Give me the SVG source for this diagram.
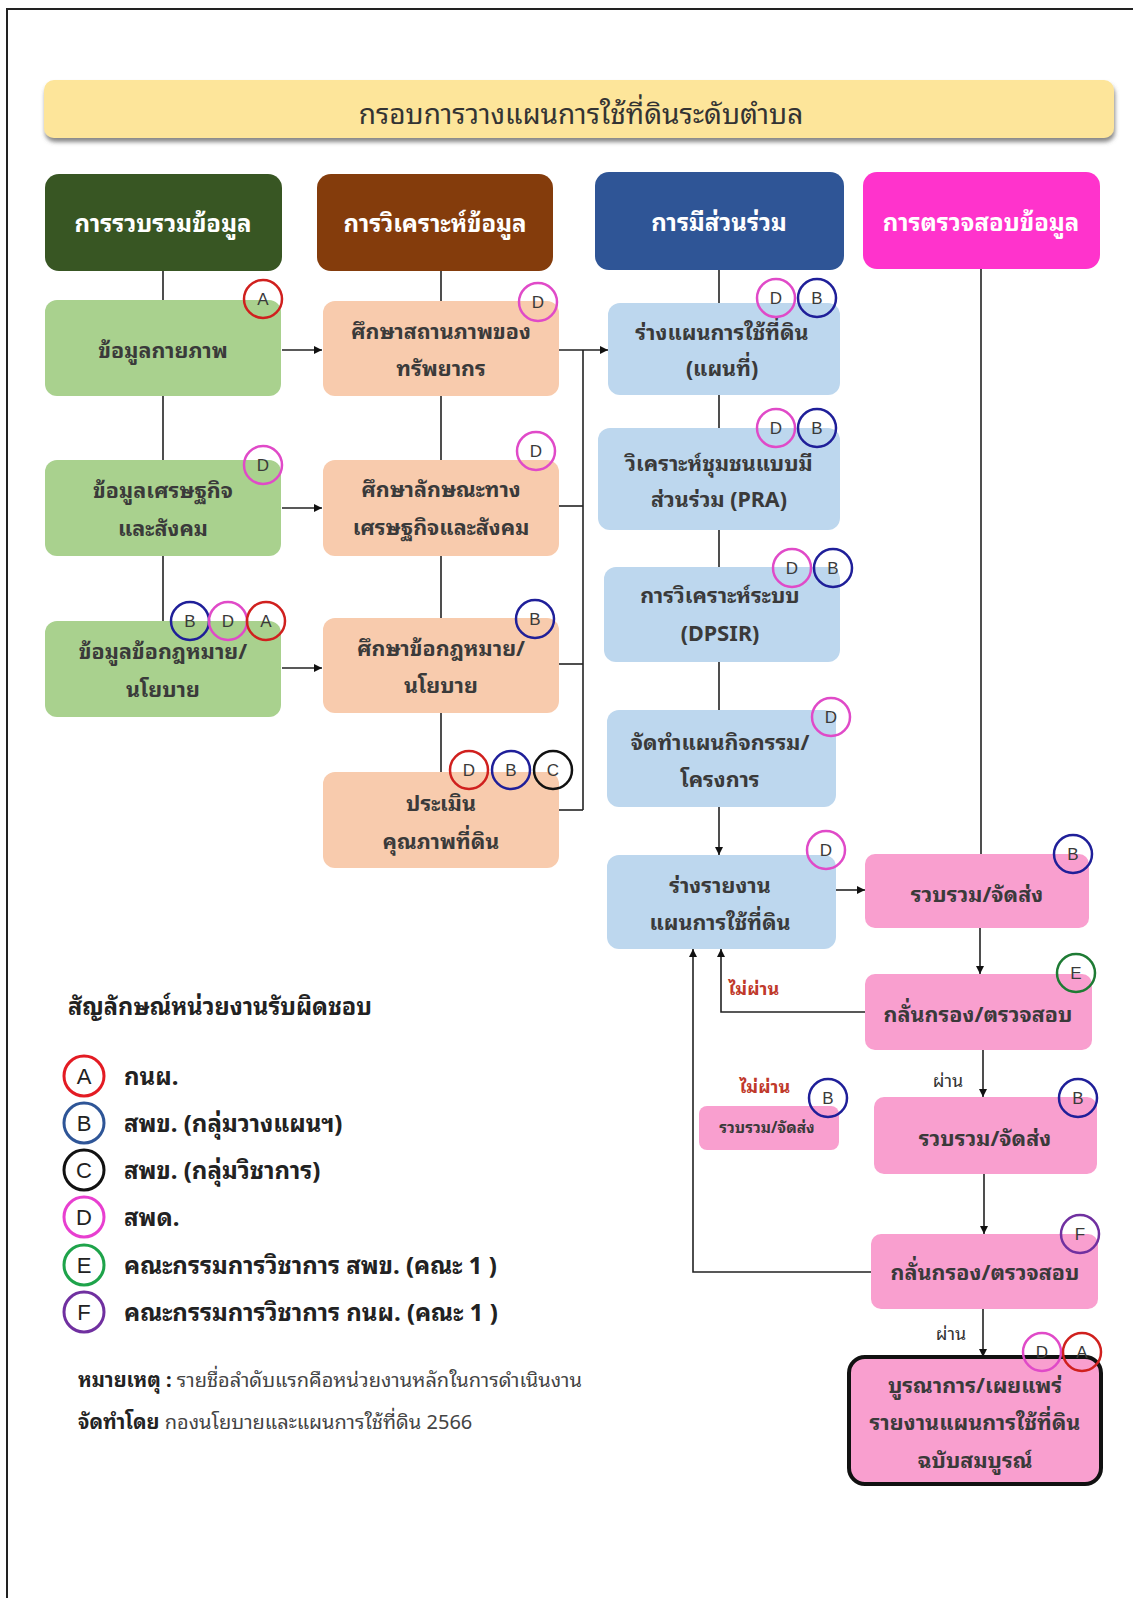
<svg xmlns="http://www.w3.org/2000/svg" width="1133" height="1598" viewBox="0 0 1133 1598">
<defs>
<style>
text{font-family:"Noto Sans Thai Looped","Tahoma","Leelawadee UI","Loma","Garuda","Noto Sans Thai","Noto Sans","DejaVu Sans",sans-serif;}
.hd{fill:#ffffff;font-size:24px;font-weight:bold;text-anchor:middle;dominant-baseline:central;}
.nt{fill:#3a3a3a;font-size:21.5px;font-weight:bold;text-anchor:middle;dominant-baseline:central;}
.bl{font-size:17px;fill:#3a3a3a;text-anchor:middle;dominant-baseline:central;font-family:"Liberation Sans",Arial,sans-serif;}
.lg{font-size:22px;fill:#222;text-anchor:middle;dominant-baseline:central;font-family:"Liberation Sans",Arial,sans-serif;}
.lt{font-size:24px;fill:#222;font-weight:bold;dominant-baseline:central;}
.green{fill:#a9d18e;}
.peach{fill:#f8cbad;}
.blue{fill:#bdd7ee;}
.pink{fill:#f99fcf;}
.ln{stroke:#222;stroke-width:1.6;fill:none;}
.bA{fill:none;stroke:#d0201e;stroke-width:2.5;}
.bB{fill:none;stroke:#1f1f99;stroke-width:2.5;}
.bC{fill:none;stroke:#111;stroke-width:2.5;}
.bD{fill:none;stroke:#e04ac8;stroke-width:2.5;}
.bE{fill:none;stroke:#1e7b34;stroke-width:2.5;}
.bF{fill:none;stroke:#7030a0;stroke-width:2.5;}
.red{fill:#c0392b;font-size:18px;font-weight:bold;text-anchor:middle;dominant-baseline:central;}
.pass{fill:#333;font-size:18px;text-anchor:middle;dominant-baseline:central;}
</style>
<marker id="ah" viewBox="0 0 10 10" refX="10" refY="5" markerWidth="8" markerHeight="8" markerUnits="userSpaceOnUse" orient="auto">
<path d="M0,0 L10,5 L0,10 z" fill="#111"/>
</marker>
<filter id="sh" x="-5%" y="-20%" width="110%" height="160%">
<feDropShadow dx="1" dy="4" stdDeviation="2" flood-color="#555" flood-opacity="0.7"/>
</filter>
</defs>
<rect x="0" y="0" width="1133" height="1598" fill="#ffffff"/>
<path d="M7,1598 V9 H1133" fill="none" stroke="#222" stroke-width="2"/>

<g id="title">
<rect x="44" y="80" width="1070" height="58" rx="10" fill="#fde59a" filter="url(#sh)"/>
<text x="581" y="111" style="font-size:28px;fill:#333;text-anchor:middle;dominant-baseline:central;">กรอบการวางแผนการใช้ที่ดินระดับตำบล</text>
</g>

<g id="connectors">
<line class="ln" x1="163" y1="271" x2="163" y2="300"/>
<line class="ln" x1="163" y1="396" x2="163" y2="460"/>
<line class="ln" x1="163" y1="556" x2="163" y2="621"/>
<line class="ln" x1="282" y1="350" x2="322" y2="350" marker-end="url(#ah)"/>
<line class="ln" x1="282" y1="508" x2="322" y2="508" marker-end="url(#ah)"/>
<line class="ln" x1="282" y1="668" x2="322" y2="668" marker-end="url(#ah)"/>
<line class="ln" x1="441" y1="271" x2="441" y2="301"/>
<line class="ln" x1="441" y1="396" x2="441" y2="460"/>
<line class="ln" x1="441" y1="556" x2="441" y2="618"/>
<line class="ln" x1="441" y1="713" x2="441" y2="772"/>
<line class="ln" x1="559" y1="350" x2="608" y2="350" marker-end="url(#ah)"/>
<line class="ln" x1="559" y1="506" x2="583" y2="506"/>
<line class="ln" x1="559" y1="664" x2="583" y2="664"/>
<line class="ln" x1="559" y1="810" x2="583" y2="810"/>
<line class="ln" x1="583" y1="350" x2="583" y2="810"/>
<line class="ln" x1="719" y1="270" x2="719" y2="303"/>
<line class="ln" x1="719" y1="395" x2="719" y2="428"/>
<line class="ln" x1="719" y1="530" x2="719" y2="567"/>
<line class="ln" x1="719" y1="662" x2="719" y2="710"/>
<line class="ln" x1="719" y1="807" x2="719" y2="855" marker-end="url(#ah)"/>
<line class="ln" x1="836" y1="890" x2="865" y2="890" marker-end="url(#ah)"/>
<line class="ln" x1="981" y1="269" x2="981" y2="854"/>
<line class="ln" x1="980" y1="928" x2="980" y2="974" marker-end="url(#ah)"/>
<line class="ln" x1="983" y1="1050" x2="983" y2="1097" marker-end="url(#ah)"/>
<line class="ln" x1="984" y1="1174" x2="984" y2="1234" marker-end="url(#ah)"/>
<line class="ln" x1="983" y1="1309" x2="983" y2="1357" marker-end="url(#ah)"/>
<polyline class="ln" points="865,1012 721,1012 721,949" marker-end="url(#ah)"/>
<polyline class="ln" points="871,1272 693,1272 693,949" marker-end="url(#ah)"/>
<text class="red" x="754" y="987">ไม่ผ่าน</text>
<text class="red" x="765" y="1085">ไม่ผ่าน</text>
<text class="pass" x="948" y="1079">ผ่าน</text>
<text class="pass" x="951" y="1332">ผ่าน</text>
</g>

<g id="h1"><rect x="45" y="174" width="237" height="97" rx="14" fill="#385623"/><text class="hd" x="163" y="221">การรวบรวมข้อมูล</text></g>
<g id="h2"><rect x="317" y="174" width="236" height="97" rx="14" fill="#843c0c"/><text class="hd" x="435" y="221">การวิเคราะห์ข้อมูล</text></g>
<g id="h3"><rect x="595" y="172" width="249" height="98" rx="14" fill="#2f5596"/><text class="hd" x="719" y="220">การมีส่วนร่วม</text></g>
<g id="h4"><rect x="863" y="172" width="237" height="97" rx="14" fill="#ff33cc"/><text class="hd" x="981" y="220">การตรวจสอบข้อมูล</text></g>

<g id="n1"><rect class="green" x="45" y="300" width="236" height="96" rx="12"/><text class="nt" x="163" y="348">ข้อมูลกายภาพ</text>
<circle class="bA" cx="263" cy="299" r="19"/><text class="bl" x="263" y="299">A</text></g>
<g id="n2"><rect class="green" x="45" y="460" width="236" height="96" rx="12"/><text class="nt" x="163" y="488">ข้อมูลเศรษฐกิจ</text><text class="nt" x="163" y="526">และสังคม</text>
<circle class="bD" cx="263" cy="465" r="19"/><text class="bl" x="263" y="465">D</text></g>
<g id="n3"><rect class="green" x="45" y="621" width="236" height="96" rx="12"/><text class="nt" x="163" y="649">ข้อมูลข้อกฎหมาย/</text><text class="nt" x="163" y="687">นโยบาย</text>
<circle class="bB" cx="190" cy="621" r="19"/><text class="bl" x="190" y="621">B</text>
<circle class="bD" cx="228" cy="621" r="19"/><text class="bl" x="228" y="621">D</text>
<circle class="bA" cx="266" cy="621" r="19"/><text class="bl" x="266" y="621">A</text></g>

<g id="n4"><rect class="peach" x="323" y="301" width="236" height="95" rx="12"/><text class="nt" x="441" y="329">ศึกษาสถานภาพของ</text><text class="nt" x="441" y="366">ทรัพยากร</text>
<circle class="bD" cx="538" cy="302" r="19"/><text class="bl" x="538" y="302">D</text></g>
<g id="n5"><rect class="peach" x="323" y="460" width="236" height="96" rx="12"/><text class="nt" x="441" y="487">ศึกษาลักษณะทาง</text><text class="nt" x="441" y="525">เศรษฐกิจและสังคม</text>
<circle class="bD" cx="536" cy="451" r="19"/><text class="bl" x="536" y="451">D</text></g>
<g id="n6"><rect class="peach" x="323" y="618" width="236" height="95" rx="12"/><text class="nt" x="441" y="646">ศึกษาข้อกฎหมาย/</text><text class="nt" x="441" y="683">นโยบาย</text>
<circle class="bB" cx="535" cy="619" r="19"/><text class="bl" x="535" y="619">B</text></g>
<g id="n7"><rect class="peach" x="323" y="772" width="236" height="96" rx="12"/><text class="nt" x="441" y="801">ประเมิน</text><text class="nt" x="441" y="839">คุณภาพที่ดิน</text>
<circle class="bA" cx="469" cy="770" r="19"/><text class="bl" x="469" y="770">D</text>
<circle class="bB" cx="511" cy="770" r="19"/><text class="bl" x="511" y="770">B</text>
<circle class="bC" cx="553" cy="770" r="19"/><text class="bl" x="553" y="770">C</text></g>

<g id="n8"><rect class="blue" x="608" y="303" width="232" height="92" rx="12"/><text class="nt" x="722" y="330">ร่างแผนการใช้ที่ดิน</text><text class="nt" x="722" y="366">(แผนที่)</text>
<circle class="bD" cx="776" cy="298" r="19"/><text class="bl" x="776" y="298">D</text>
<circle class="bB" cx="817" cy="298" r="19"/><text class="bl" x="817" y="298">B</text></g>
<g id="n9"><rect class="blue" x="598" y="428" width="242" height="102" rx="12"/><text class="nt" x="719" y="461">วิเคราะห์ชุมชนแบบมี</text><text class="nt" x="719" y="497">ส่วนร่วม (PRA)</text>
<circle class="bD" cx="776" cy="428" r="19"/><text class="bl" x="776" y="428">D</text>
<circle class="bB" cx="817" cy="428" r="19"/><text class="bl" x="817" y="428">B</text></g>
<g id="n10"><rect class="blue" x="604" y="567" width="236" height="95" rx="12"/><text class="nt" x="720" y="593">การวิเคราะห์ระบบ</text><text class="nt" x="720" y="631">(DPSIR)</text>
<circle class="bD" cx="792" cy="568" r="19"/><text class="bl" x="792" y="568">D</text>
<circle class="bB" cx="833" cy="568" r="19"/><text class="bl" x="833" y="568">B</text></g>
<g id="n11"><rect class="blue" x="607" y="710" width="229" height="97" rx="12"/><text class="nt" x="720" y="740">จัดทำแผนกิจกรรม/</text><text class="nt" x="720" y="777">โครงการ</text>
<circle class="bD" cx="831" cy="717" r="19"/><text class="bl" x="831" y="717">D</text></g>
<g id="n12"><rect class="blue" x="607" y="855" width="229" height="94" rx="12"/><text class="nt" x="720" y="883">ร่างรายงาน</text><text class="nt" x="720" y="920">แผนการใช้ที่ดิน</text>
<circle class="bD" cx="826" cy="850" r="19"/><text class="bl" x="826" y="850">D</text></g>

<g id="n13"><rect class="pink" x="865" y="854" width="224" height="74" rx="10"/><text class="nt" x="977" y="892">รวบรวม/จัดส่ง</text>
<circle class="bB" cx="1073" cy="854" r="19"/><text class="bl" x="1073" y="854">B</text></g>
<g id="n14"><rect class="pink" x="865" y="974" width="227" height="76" rx="10"/><text class="nt" x="978" y="1012">กลั่นกรอง/ตรวจสอบ</text>
<circle class="bE" cx="1076" cy="973" r="19"/><text class="bl" x="1076" y="973">E</text></g>
<g id="n15"><rect class="pink" x="874" y="1097" width="223" height="77" rx="10"/><text class="nt" x="985" y="1136">รวบรวม/จัดส่ง</text>
<circle class="bB" cx="1078" cy="1098" r="19"/><text class="bl" x="1078" y="1098">B</text></g>
<g id="n16"><rect class="pink" x="871" y="1234" width="227" height="75" rx="10"/><text class="nt" x="985" y="1270">กลั่นกรอง/ตรวจสอบ</text>
<circle class="bF" cx="1080" cy="1234" r="19"/><text class="bl" x="1080" y="1234">F</text></g>
<g id="n17"><rect class="pink" x="699" y="1106" width="140" height="44" rx="8"/><text class="nt" x="767" y="1126" style="font-size:15.5px">รวบรวม/จัดส่ง</text>
<circle class="bB" cx="828" cy="1098" r="19"/><text class="bl" x="828" y="1098">B</text></g>
<g id="n18"><rect class="pink" x="849" y="1357" width="252" height="127" rx="16" stroke="#111" stroke-width="4"/>
<text class="nt" x="975" y="1383">บูรณาการ/เผยแพร่</text><text class="nt" x="975" y="1420">รายงานแผนการใช้ที่ดิน</text><text class="nt" x="975" y="1458">ฉบับสมบูรณ์</text>
<circle class="bD" cx="1042" cy="1352" r="19"/><text class="bl" x="1042" y="1352">D</text>
<circle class="bA" cx="1082" cy="1352" r="19"/><text class="bl" x="1082" y="1352">A</text></g>

<g id="legend">
<text x="68" y="1004" style="font-size:23.5px;fill:#222;font-weight:bold;dominant-baseline:central;">สัญลักษณ์หน่วยงานรับผิดชอบ</text>
<circle cx="84" cy="1076" r="20" fill="none" stroke="#e31b23" stroke-width="3"/><text class="lg" x="84" y="1076">A</text><text class="lt" x="124" y="1074">กนผ.</text>
<circle cx="84" cy="1123" r="20" fill="none" stroke="#2e5597" stroke-width="3"/><text class="lg" x="84" y="1123">B</text><text class="lt" x="124" y="1121">สพข. (กลุ่มวางแผนฯ)</text>
<circle cx="84" cy="1170" r="20" fill="none" stroke="#111" stroke-width="3"/><text class="lg" x="84" y="1170">C</text><text class="lt" x="124" y="1168">สพข. (กลุ่มวิชาการ)</text>
<circle cx="84" cy="1217" r="20" fill="none" stroke="#e83fd0" stroke-width="3"/><text class="lg" x="84" y="1217">D</text><text class="lt" x="124" y="1215">สพด.</text>
<circle cx="84" cy="1265" r="20" fill="none" stroke="#1ea34a" stroke-width="3"/><text class="lg" x="84" y="1265">E</text><text class="lt" x="124" y="1263">คณะกรรมการวิชาการ สพข. (คณะ 1 )</text>
<circle cx="84" cy="1312" r="20" fill="none" stroke="#7030a0" stroke-width="3"/><text class="lg" x="84" y="1312">F</text><text class="lt" x="124" y="1310">คณะกรรมการวิชาการ กนผ. (คณะ 1 )</text>
<text x="78" y="1378" style="font-size:20px;fill:#444;dominant-baseline:central;"><tspan font-weight="bold" fill="#222">หมายเหตุ :</tspan> รายชื่อลำดับแรกคือหน่วยงานหลักในการดำเนินงาน</text>
<text x="78" y="1420" style="font-size:20px;fill:#444;dominant-baseline:central;"><tspan font-weight="bold" fill="#222">จัดทำโดย</tspan> กองนโยบายและแผนการใช้ที่ดิน 2566</text>
</g>
</svg>
